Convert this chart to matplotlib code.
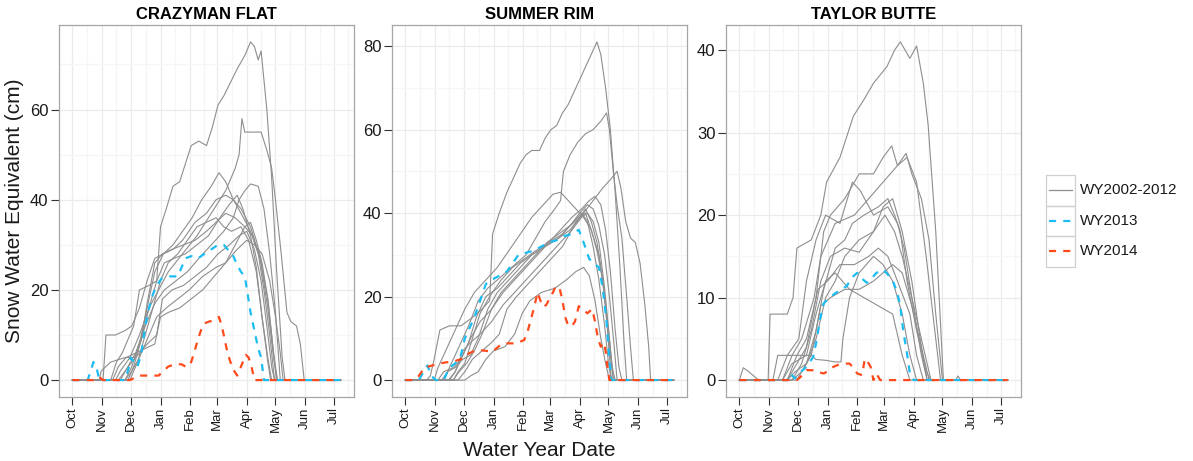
import matplotlib
matplotlib.use('Agg')
import matplotlib.pyplot as plt
from matplotlib.patches import Rectangle
from matplotlib.lines import Line2D

plt.rcParams['font.family'] = ['Liberation Sans', 'DejaVu Sans']

# x axis: day of water year (0 = Oct 1)
MONTHS = ['Oct', 'Nov', 'Dec', 'Jan', 'Feb', 'Mar', 'Apr', 'May', 'Jun', 'Jul']
MONTH_START = [0, 31, 61, 92, 123, 151, 182, 212, 243, 273]
SITES = ['CRAZYMAN FLAT', 'SUMMER RIM', 'TAYLOR BUTTE']
Y_TICKS = [[0, 20, 40, 60], [0, 20, 40, 60, 80], [0, 10, 20, 30, 40]]
SERIES = ['WY2002-2012', 'WY2013', 'WY2014']

# (day, SWE cm) for each historical year WY2002-2012
CRAZYMAN_HIST = [
    [(0, 0), (40, 0), (46, 4), (52, 6), (58, 9), (64, 12), (70, 20), (80, 21), (88, 22), (92, 34), (98, 38),
     (105, 43), (112, 44), (118, 48), (124, 52), (132, 53), (140, 52), (146, 56), (152, 61), (158, 63),
     (165, 66), (172, 69), (180, 72), (186, 75), (190, 74), (194, 71), (197, 73), (203, 60), (208, 45),
     (213, 25), (219, 5), (222, 0), (280, 0)],
    [(0, 0), (45, 0), (50, 2), (60, 5), (70, 10), (80, 16), (90, 20), (100, 24), (115, 28), (130, 32),
     (145, 37), (160, 42), (170, 47), (174, 50), (177, 58), (180, 55), (190, 55), (197, 55), (203, 51),
     (208, 47), (212, 40), (218, 28), (224, 15), (228, 13), (234, 12), (238, 8), (242, 0), (280, 0)],
    [(0, 0), (55, 0), (62, 3), (70, 8), (78, 16), (86, 24), (95, 28), (105, 30), (115, 33), (125, 36),
     (135, 40), (145, 43), (153, 46), (160, 44), (168, 40), (176, 37), (186, 33), (194, 28), (200, 20),
     (206, 10), (211, 0), (280, 0)],
    [(0, 0), (50, 0), (58, 3), (66, 6), (76, 12), (86, 17), (96, 20), (108, 22), (120, 24), (132, 27),
     (145, 30), (158, 33), (168, 36), (174, 40), (180, 42), (186, 43.5), (194, 43), (200, 38), (206, 28),
     (212, 15), (217, 0), (280, 0)],
    [(0, 0), (32, 0), (35, 10), (45, 10), (55, 11), (62, 12), (70, 16), (78, 22), (86, 27), (95, 28),
     (105, 29), (115, 31), (128, 35), (140, 37), (150, 40), (160, 41), (168, 40), (176, 38), (186, 34),
     (196, 27), (204, 16), (210, 5), (214, 0), (280, 0)],
    [(0, 0), (28, 0), (30, 2), (40, 4), (55, 5), (65, 5), (72, 9), (78, 17), (86, 26), (94, 28), (104, 29),
     (116, 30), (128, 31), (140, 33), (150, 35), (160, 37), (170, 36), (180, 34), (188, 32), (196, 27),
     (204, 18), (210, 6), (214, 0), (280, 0)],
    [(0, 0), (48, 0), (55, 2), (62, 4), (70, 6), (78, 8), (88, 10), (94, 18), (104, 20), (116, 21),
     (128, 23), (140, 25), (152, 28), (164, 30), (174, 32), (182, 33), (190, 29), (197, 22), (203, 12),
     (208, 3), (211, 0), (280, 0)],
    [(0, 0), (55, 0), (62, 2), (70, 5), (78, 9), (88, 14), (98, 16), (110, 18), (122, 20), (136, 23),
     (150, 25), (160, 26), (170, 30), (180, 34), (186, 35), (192, 31), (198, 26), (204, 18), (209, 8),
     (213, 0), (280, 0)],
    [(0, 0), (42, 0), (48, 3), (56, 5), (66, 6), (76, 7), (86, 8), (92, 14), (100, 15), (112, 16),
     (124, 18), (136, 20), (148, 23), (160, 26), (172, 29), (182, 31), (190, 30), (198, 28), (206, 22),
     (212, 14), (217, 6), (220, 0), (280, 0)],
    [(0, 0), (58, 0), (64, 3), (72, 9), (80, 16), (88, 22), (96, 26), (106, 27), (118, 28), (130, 30),
     (142, 32), (154, 36), (164, 39), (172, 41), (178, 38), (186, 32), (192, 25), (198, 14), (204, 4),
     (207, 0), (280, 0)],
    [(0, 0), (60, 0), (68, 4), (76, 10), (84, 16), (92, 22), (100, 26), (110, 28), (120, 31), (130, 34),
     (140, 35), (150, 36), (158, 34), (166, 33), (176, 34), (184, 31), (192, 24), (198, 14), (204, 5),
     (208, 0), (280, 0)],
]
CRAZYMAN_WY2013 = [
    (0, 0), (16, 0), (19, 2), (22, 4), (25, 3), (28, 0), (54, 0), (58, 2), (61, 5), (64, 4), (68, 3),
    (72, 6), (76, 12), (80, 16), (84, 19), (88, 21), (93, 22.5), (100, 23), (110, 23), (114, 25),
    (118, 27), (124, 27.5), (131, 27), (138, 28), (145, 29), (152, 30), (158, 30), (162, 29), (167, 28),
    (171, 26), (176, 24), (180, 23), (183, 19), (186, 15), (190, 11), (194, 7), (197, 5), (200, 0), (280, 0)]
CRAZYMAN_WY2014 = [
    (0, 0), (24, 0), (28, 0.7), (32, 0), (60, 0), (65, 0.5), (69, 1), (80, 1), (90, 1), (95, 2), (100, 3),
    (107, 3.5), (114, 3.5), (118, 3), (121, 3), (124, 4), (127, 6), (131, 9), (135, 11.5), (138, 12.6),
    (143, 13), (148, 13.3), (153, 14), (156, 12), (159, 9), (162, 6), (165, 4), (169, 2), (172, 1),
    (176, 3), (181, 5.6), (184, 5), (187, 3), (190, 0), (280, 0)]

SUMMER_HIST = [
    [(0, 0), (22, 0), (26, 1), (30, 5), (36, 12), (46, 13), (58, 13), (70, 15), (80, 17), (88, 19),
     (91, 35), (98, 40), (106, 45), (114, 49), (120, 52), (126, 54), (132, 55), (140, 55), (146, 58),
     (152, 60), (158, 61), (164, 64), (170, 66), (176, 69), (182, 72), (188, 75), (194, 78), (200, 81),
     (204, 78), (209, 70), (214, 60), (219, 45), (224, 27), (228, 10), (231, 0), (280, 0)],
    [(0, 0), (40, 0), (48, 4), (56, 8), (66, 13), (76, 19), (86, 22), (96, 24), (106, 26), (116, 28),
     (126, 30), (136, 34), (146, 38), (156, 41), (162, 43), (165, 50), (172, 54), (180, 57), (188, 59),
     (196, 60), (204, 62), (210, 64), (213, 60), (217, 50), (221, 42), (226, 34), (231, 20), (235, 8),
     (238, 0), (280, 0)],
    [(0, 0), (55, 0), (62, 2), (70, 5), (80, 7), (90, 9), (98, 11), (106, 17), (116, 20), (128, 23),
     (140, 26), (152, 29), (164, 32), (176, 37), (186, 40), (196, 43), (206, 46), (214, 48), (221, 50),
     (225, 46), (230, 38), (235, 34), (240, 33), (245, 28), (250, 18), (254, 8), (256, 0), (280, 0)],
    [(0, 0), (30, 0), (34, 3), (42, 7), (52, 12), (62, 17), (72, 21), (84, 24), (96, 27), (108, 31),
     (120, 35), (132, 39), (144, 42), (154, 44.5), (162, 45), (170, 43), (178, 41), (186, 39), (194, 36),
     (202, 30), (208, 20), (213, 8), (217, 0), (280, 0)],
    [(0, 0), (45, 0), (52, 2), (60, 6), (68, 10), (78, 14), (90, 17), (102, 21), (114, 24), (126, 27),
     (138, 30), (150, 33), (162, 36), (174, 39), (184, 41), (192, 43), (198, 44), (204, 42), (209, 36),
     (214, 26), (219, 12), (223, 3), (226, 0), (280, 0)],
    [(0, 0), (50, 0), (56, 2), (64, 4), (72, 7), (80, 11), (90, 17), (100, 21), (112, 24), (124, 27),
     (136, 30), (148, 33), (160, 35), (172, 37), (182, 40), (190, 42), (196, 41), (202, 37), (208, 30),
     (213, 20), (218, 8), (221, 0), (280, 0)],
    [(0, 0), (38, 0), (44, 2), (52, 3), (60, 5), (68, 6), (76, 10), (86, 17), (96, 21), (108, 24),
     (120, 27), (132, 30), (146, 32), (160, 34), (172, 37), (182, 39), (188, 40), (194, 36), (200, 31),
     (206, 24), (212, 12), (216, 3), (219, 0), (280, 0)],
    [(0, 0), (62, 0), (68, 1), (76, 2), (84, 5), (92, 7), (104, 8), (114, 11), (122, 16), (130, 19),
     (142, 21), (156, 22), (168, 24), (178, 26), (186, 27), (192, 25), (198, 19), (204, 10), (209, 4),
     (213, 0), (280, 0)],
    [(0, 0), (46, 0), (52, 2), (60, 7), (68, 9), (78, 11), (90, 14), (102, 18), (114, 21), (126, 24),
     (138, 27), (150, 30), (162, 33), (174, 36), (184, 39), (190, 40), (196, 38), (202, 33), (208, 22),
     (213, 10), (217, 0), (280, 0)],
    [(0, 0), (34, 0), (40, 2), (50, 3), (58, 5), (66, 9), (74, 15), (84, 20), (96, 22), (108, 25),
     (120, 28), (132, 30), (146, 32), (160, 34), (172, 36), (182, 39), (188, 41), (194, 38), (200, 33),
     (206, 24), (211, 12), (215, 0), (280, 0)],
    [(0, 0), (50, 0), (55, 2), (62, 4), (70, 10), (78, 16), (88, 20), (100, 24), (112, 27), (124, 29),
     (136, 31), (150, 33), (164, 35), (176, 38), (184, 40), (190, 38), (196, 32), (202, 24), (208, 13),
     (212, 4), (215, 0), (280, 0)],
]
SUMMER_WY2013 = [
    (0, 0), (14, 0), (19, 2), (23, 3.5), (27, 1), (32, 0), (40, 0), (46, 3), (52, 4), (58, 6), (62, 10),
    (66, 12), (72, 15), (78, 19), (84, 23), (90, 24), (98, 25), (106, 26), (112, 28), (118, 30),
    (126, 30.5), (134, 31), (142, 32), (150, 33), (158, 33.5), (166, 34.5), (174, 35), (181, 36),
    (186, 33), (192, 29), (197, 28), (202, 27), (206, 22), (210, 14), (213, 5), (215, 0), (280, 0)]
SUMMER_WY2014 = [
    (0, 0), (10, 0), (14, 1), (20, 3), (28, 3.5), (36, 4), (44, 4.3), (52, 4.6), (58, 5), (63, 6),
    (70, 6.8), (77, 7.2), (84, 7), (91, 6.8), (97, 8), (102, 8.8), (110, 8.8), (116, 8.8), (124, 9.6),
    (128, 12), (131, 14.5), (135, 18), (138, 21), (141, 19), (144, 17.5), (147, 18), (150, 19.3),
    (154, 21), (157, 22.5), (161, 22), (164, 19), (167, 15), (170, 13), (174, 13), (177, 14),
    (181, 17.7), (185, 17), (190, 16), (195, 17), (198, 14), (201, 10), (204, 8), (207, 9), (209, 7),
    (211, 3), (213, 0), (280, 0)]

TAYLOR_HIST = [
    [(0, 0), (30, 0), (32, 8), (50, 8), (56, 10), (60, 16), (75, 17), (85, 20), (91, 24), (105, 27),
     (119, 32), (130, 34), (140, 36), (154, 38), (162, 40), (168, 41), (178, 39), (185, 40.5), (192, 36),
     (197, 31), (205, 18), (213, 0), (226, 0), (228, 0.5), (231, 0), (280, 0)],
    [(0, 0), (50, 0), (60, 2), (70, 4), (80, 10), (88, 18), (95, 20), (110, 22), (125, 25), (140, 25),
     (150, 27), (159, 28.4), (165, 26), (175, 27), (185, 24), (195, 15), (205, 5), (210, 0), (280, 0)],
    [(0, 0), (45, 0), (55, 3), (65, 5), (78, 10), (85, 15), (100, 19), (120, 20), (135, 22), (150, 24),
     (165, 26), (174, 27.5), (180, 25), (190, 22), (198, 17), (205, 8), (212, 0), (280, 0)],
    [(0, 0), (40, 0), (50, 3), (62, 5), (70, 12), (80, 17), (90, 20), (105, 19), (118, 24), (126, 23),
     (140, 20), (155, 21), (165, 19), (172, 16), (180, 10), (190, 3), (196, 0), (280, 0)],
    [(0, 0), (55, 0), (65, 2), (75, 6), (85, 12), (95, 15), (110, 16), (125, 15.5), (140, 18), (150, 21),
     (160, 22), (170, 18), (180, 12), (190, 4), (198, 0), (280, 0)],
    [(0, 0), (35, 0), (40, 3), (50, 3), (60, 3), (75, 3), (80, 2.5), (90, 2.4), (100, 2.2), (106, 2.2),
     (108, 5), (115, 10), (125, 13), (140, 15), (150, 14), (160, 12), (170, 8), (178, 3), (185, 0), (280, 0)],
    [(0, 0), (45, 0), (55, 2), (70, 3), (80, 8), (90, 12), (100, 13), (115, 11), (130, 10), (145, 9),
     (160, 8), (170, 3), (178, 0), (280, 0)],
    [(0, 0), (4, 1.5), (10, 1), (20, 0), (50, 0), (58, 1), (70, 2), (80, 5), (90, 10), (100, 12),
     (110, 15), (125, 17), (140, 18), (152, 20), (162, 18), (170, 15), (180, 10), (190, 5), (200, 0), (280, 0)],
    [(0, 0), (50, 0), (60, 3), (70, 5), (82, 11), (92, 12), (105, 14), (120, 14), (135, 15), (145, 16),
     (155, 15), (165, 12), (178, 8), (185, 3), (192, 0), (280, 0)],
    [(0, 0), (55, 0), (65, 1), (75, 3), (85, 9), (95, 10), (110, 11), (125, 11), (140, 12), (150, 13),
     (160, 14), (170, 13), (180, 9), (190, 4), (196, 0), (280, 0)],
    [(0, 0), (60, 0), (70, 2), (80, 6), (88, 11), (100, 16), (110, 17), (118, 19), (130, 20), (145, 21),
     (155, 22), (162, 20), (168, 18), (175, 12), (185, 6), (195, 1), (200, 0), (280, 0)],
]
TAYLOR_WY2013 = [
    (0, 0), (50, 0), (53, 0.8), (58, 0.2), (64, 1), (70, 1.6), (77, 2.8), (81, 5), (84, 7.3), (88, 9.3),
    (94, 10), (101, 10.6), (107, 11), (112, 11.4), (118, 12.5), (123, 13), (128, 12.3), (133, 11.8),
    (138, 12.3), (143, 13), (150, 13.4), (155, 12.8), (161, 11.8), (165, 10.5), (168, 9), (171, 6),
    (175, 3.2), (178, 0.8), (182, 0), (280, 0)]
TAYLOR_WY2014 = [
    (0, 0), (60, 0), (64, 0.4), (70, 1.2), (76, 1.2), (81, 1), (88, 0.8), (94, 1.2), (98, 1.6),
    (104, 1.9), (109, 2), (115, 2), (119, 1.5), (123, 0.8), (128, 0.6), (131, 2.6), (134, 2.2),
    (137, 1.6), (140, 0), (143, 0.8), (147, 0), (280, 0)]

GREY = '#8E8E8E'
BLUE = '#1CBDF2'
RED = '#FF4A1C'
DASH = (3.2, 3.2)


def draw_site(ax, hist, wy13, wy14, title, yticks):
    for line in hist:
        d, s = zip(*line)
        ax.plot(d, s, color=GREY, lw=0.8, zorder=2)
    d, s = zip(*wy13)
    ax.plot(d, s, color=BLUE, lw=1.6, dashes=DASH, zorder=3)
    d, s = zip(*wy14)
    ax.plot(d, s, color=RED, lw=1.6, dashes=DASH, zorder=4)
    ax.margins(x=0.05, y=0.05)
    ax.autoscale_view()
    xlim, ylim = ax.get_xlim(), ax.get_ylim()

    # monthly majors, mid-month minors (gridlines only)
    ax.set_xticks(MONTH_START)
    ax.set_xticklabels(MONTHS, rotation=90, fontsize=9.5)
    xminor = [(a + b) / 2 for a, b in zip(MONTH_START[:-1], MONTH_START[1:])] + [288]
    ax.set_xticks([v for v in xminor if xlim[0] < v < xlim[1]], minor=True)
    ax.set_yticks(yticks)
    ax.set_yticklabels([str(v) for v in yticks], fontsize=12)
    step = yticks[1] - yticks[0]
    ax.set_yticks([v + step / 2 for v in yticks if v + step / 2 < ylim[1]], minor=True)
    ax.set_xlim(xlim)
    ax.set_ylim(ylim)

    ax.grid(which='major', color='#EBEBEB', lw=0.9, zorder=0)
    ax.grid(which='minor', color='#F6F6F6', lw=0.9, zorder=0)
    ax.set_axisbelow(True)
    ax.tick_params(which='major', direction='out', length=5.5, width=0.8, color='#333333',
                   labelcolor='#1a1a1a', pad=2)
    ax.tick_params(which='minor', length=0)
    for sp in ax.spines.values():
        sp.set_color('#A6A6A6')
        sp.set_linewidth(0.9)
    ax.set_title(title, fontsize=12, fontweight='bold', pad=4)


fig = plt.figure(figsize=(11.93, 4.61), dpi=100)
W, H = 1193, 461
lefts = [59, 392, 726]
site_data = [
    (CRAZYMAN_HIST, CRAZYMAN_WY2013, CRAZYMAN_WY2014),
    (SUMMER_HIST, SUMMER_WY2013, SUMMER_WY2014),
    (TAYLOR_HIST, TAYLOR_WY2013, TAYLOR_WY2014),
]
for i, (hist, wy13, wy14) in enumerate(site_data):
    ax = fig.add_axes([lefts[i] / W, (H - 397) / H, 295 / W, 372 / H])
    draw_site(ax, hist, wy13, wy14, SITES[i], Y_TICKS[i])

fig.text(15 / W, (H - 211) / H, 'Snow Water Equivalent (cm)', rotation=90,
         ha='center', va='center', fontsize=15, color='#1a1a1a')
fig.text(539.5 / W, (H - 450) / H, 'Water Year Date', ha='center', va='center',
         fontsize=15, color='#1a1a1a')

# legend, drawn in pixel space
lg = fig.add_axes([0, 0, 1, 1], facecolor='none')
lg.set_xlim(0, W)
lg.set_ylim(H, 0)
lg.axis('off')
styles = [dict(color=GREY, lw=0.9), dict(color=BLUE, lw=1.6, dashes=DASH),
          dict(color=RED, lw=1.6, dashes=DASH)]
for k, (label, st) in enumerate(zip(SERIES, styles)):
    top = 175 + k * 30.5
    lg.add_patch(Rectangle((1046, top), 29, 30.5, fill=False, ec='#D0D0D0', lw=0.9))
    lg.add_line(Line2D([1049, 1072], [top + 15.25, top + 15.25], **st))
    lg.text(1080, top + 15.25, label, fontsize=11, va='center', ha='left', color='#1a1a1a')

fig.savefig('out.png', dpi=100)
